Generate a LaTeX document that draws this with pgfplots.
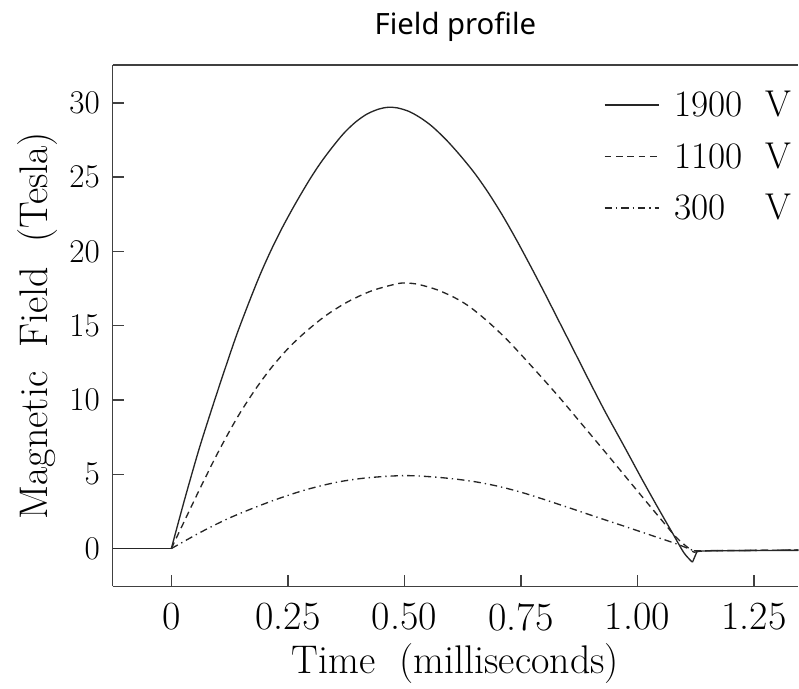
\documentclass[border=0pt]{standalone}
\usepackage{fontspec}
\usepackage{pgfplots}
\pgfplotsset{compat=1.18}
\newfontfamily\titlefont{Noto Sans}

% 1900 V: main pulse (smooth part) and tail
\pgfplotstableread{
t B
0.000 0
0.028 3.25
0.060 6.75
0.093 10.0
0.120 12.55
0.142 14.55
0.170 16.85
0.192 18.55
0.215 20.15
0.238 21.6
0.265 23.15
0.295 24.75
0.320 25.95
0.345 27.0
0.370 27.95
0.395 28.7
0.420 29.25
0.445 29.58
0.465 29.7
0.485 29.66
0.510 29.42
0.535 28.98
0.560 28.4
0.590 27.5
0.620 26.45
0.651 25.25
0.680 23.95
0.710 22.45
0.740 20.8
0.770 19.05
0.800 17.25
0.830 15.4
0.860 13.55
0.893 11.5
0.930 9.25
0.972 6.85
1.010 4.65
1.043 2.8
1.075 1.05
1.100 -0.3
1.118 -0.92
}\highdata
\pgfplotstableread{
t B
-0.126 0
0.000 0
}\highpre
\pgfplotstableread{
t B
1.118 -0.92
1.128 -0.18
1.160 -0.15
1.345 -0.12
}\highpost

% 1100 V
\pgfplotstableread{
t B
0.000 0
0.057 3.75
0.100 6.46
0.142 8.85
0.180 10.7
0.214 12.15
0.250 13.45
0.285 14.5
0.330 15.65
0.378 16.6
0.430 17.35
0.484 17.82
0.505 17.87
0.530 17.78
0.570 17.42
0.610 16.85
0.641 16.25
0.680 15.25
0.722 14.0
0.775 12.2
0.829 10.3
0.880 8.4
0.936 6.3
0.990 4.25
1.043 2.25
1.085 0.7
1.121 -0.25
}\middata
\pgfplotstableread{
t B
1.121 -0.25
1.140 -0.15
1.345 -0.1
}\midpost

% 300 V
\pgfplotstableread{
t B
0.000 0
0.060 1.05
0.117 1.95
0.170 2.65
0.228 3.34
0.290 3.97
0.356 4.47
0.420 4.76
0.499 4.91
0.570 4.80
0.641 4.55
0.700 4.20
0.758 3.72
0.829 3.00
0.900 2.25
0.972 1.50
1.043 0.75
1.085 0.30
1.121 -0.15
}\lowdata
\pgfplotstableread{
t B
1.121 -0.15
1.345 -0.1
}\lowpost

\begin{document}
\begin{tikzpicture}
\begin{axis}[
  name=ax,
  scale only axis,
  width=514.5pt, height=391.3pt,
  xmin=-0.126, xmax=1.345,
  ymin=-2.55, ymax=32.55,
  axis x line*=bottom, axis y line*=left,
  axis line style={-, black!75, line width=1.1pt},
  tick style={black!75, line width=1.1pt},
  tick align=inside,
  major tick length=8.5pt,
  xtick={0,0.25,0.5,0.75,1,1.25},
  xticklabels={0,0.25,0.50,0.75,1.00,1.25},
  ytick={0,5,...,30},
  tick label style={font=\fontsize{30}{36}\selectfont},
  xticklabel style={yshift=-9pt},
  yticklabel style={xshift=-6pt},
  xlabel={Time\ \ (milliseconds)},
  ylabel={Magnetic\ \ Field\ \ (Tesla)},
  xlabel style={yshift=-3pt},
  ylabel style={yshift=2pt},
  label style={font=\fontsize{30}{36}\selectfont},
  title={Field profile},
  title style={font=\titlefont\fontsize{22}{26}\selectfont, yshift=8pt},
  legend style={draw=none, fill=none, at={(1.0,0.96)}, anchor=north east,
    font=\fontsize{28}{34}\selectfont, row sep=14pt,
    /tikz/every odd column/.append style={column sep=9pt}},
  legend cell align=left,
  legend image code/.code={\draw[#1] (0pt,0pt) -- (41pt,0pt);},
]
\draw[black!75, line width=1.1pt] (rel axis cs:0,1) -- (rel axis cs:1,1);
\addplot[black!85, line width=1pt, smooth, tension=0.5] table[x=t,y=B] {\highdata};
\addlegendentry{1900\hspace{0.6em}V}
\addplot[black!85, line width=1pt, smooth, tension=0.5, dash pattern=on 5pt off 3.5pt] table[x=t,y=B] {\middata};
\addlegendentry{1100\hspace{0.6em}V}
\addplot[black!85, line width=1pt, smooth, tension=0.5, dash pattern=on 5.5pt off 3pt on 1pt off 3pt] table[x=t,y=B] {\lowdata};
\addlegendentry{300\phantom{0}\hspace{0.6em}V}
\addplot[black!85, line width=1pt, forget plot] table[x=t,y=B] {\highpre};
\addplot[black!85, line width=1pt, forget plot] table[x=t,y=B] {\highpost};
\addplot[black!85, line width=1pt, forget plot, dash pattern=on 5pt off 3.5pt] table[x=t,y=B] {\midpost};
\addplot[black!85, line width=1pt, forget plot, dash pattern=on 5.5pt off 3pt on 1pt off 3pt] table[x=t,y=B] {\lowpost};
\end{axis}
\path ([xshift=-84.5pt, yshift=-74.5pt]ax.south west) rectangle ([yshift=48.75pt]ax.north east);
\end{tikzpicture}
\end{document}
